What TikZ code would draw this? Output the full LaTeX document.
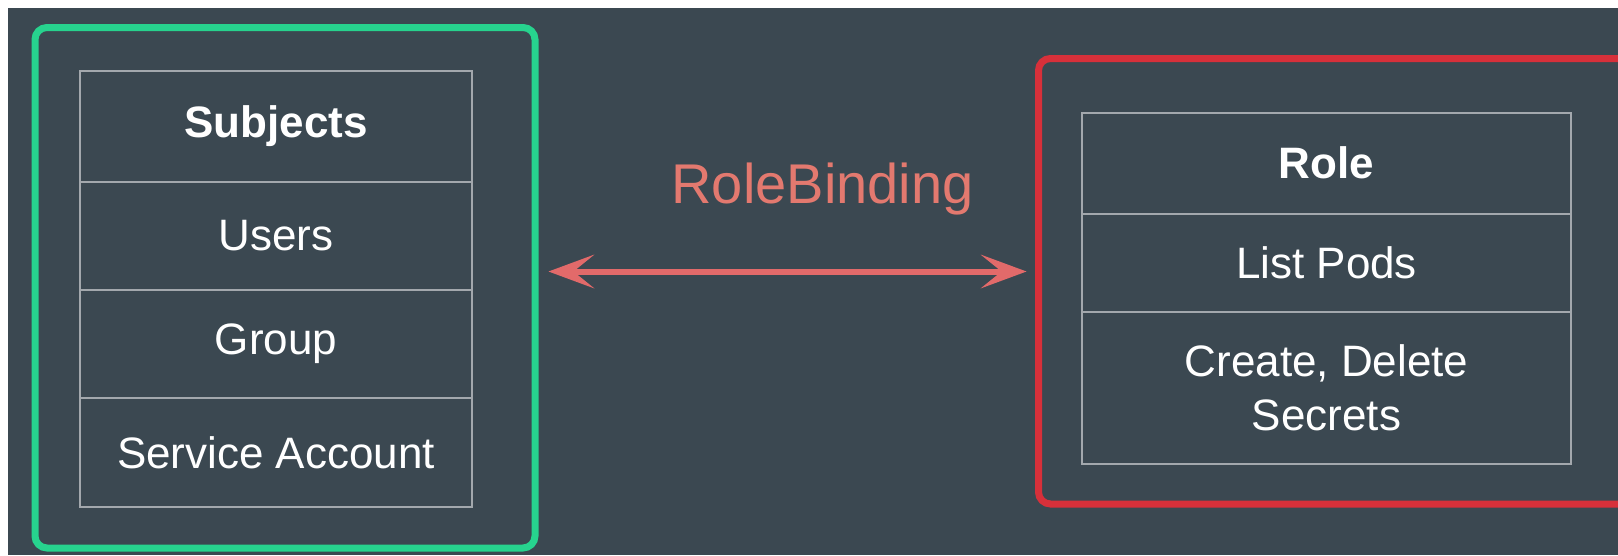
\documentclass[tikz,border=0pt]{standalone}
\usepackage{fontspec}
\setmainfont{Liberation Sans}
\usetikzlibrary{arrows.meta}

\definecolor{slatebg}{HTML}{3B4851}
\definecolor{subjgreen}{HTML}{27D38E}
\definecolor{rolered}{HTML}{D7303A}
\definecolor{gridgrey}{HTML}{A3A8AD}
\definecolor{bindred}{HTML}{E26A6A}
\definecolor{bindtext}{HTML}{E3796F}

\tikzset{
  frame/.style={draw, line width=7pt, rounded corners=12pt, inner sep=0pt},
  cell/.style={draw=gridgrey, line width=2pt, inner sep=0pt, text=white,
    align=center, font=\fontsize{44}{54}\selectfont},
  headcell/.style={cell, font=\fontsize{44}{54}\selectfont\bfseries},
  bindtip/.tip={Stealth[length=46pt,width=34pt,inset=21pt,line width=0pt]},
  bind/.style={draw=bindred, line width=6pt, bindtip-bindtip},
}

\begin{document}
\begin{tikzpicture}[x=1pt,y=-1pt]
  % page and backdrop
  \clip (0,0) rectangle (1618,555);
  \fill[white] (0,0) rectangle (1618,555);
  \fill[slatebg] (8,8) rectangle (1618,555);

  % subjects group
  \node[frame, draw=subjgreen, minimum width=500pt, minimum height=520.5pt]
    (subjframe) at (285,287.75) {};
  \node[headcell, minimum width=392pt, minimum height=111pt] (subj) at (276,126.5) {Subjects};
  \node[cell, minimum width=392pt, minimum height=108pt] (users) at (276,236) {Users};
  \node[cell, minimum width=392pt, minimum height=108pt] (group) at (276,344) {Group};
  \node[cell, minimum width=392pt, minimum height=109pt] (svc) at (276,452.5) {Service Account};

  % role group (runs past the right edge)
  \node[frame, draw=rolered, minimum width=621.5pt, minimum height=445.5pt]
    (roleframe) at (1349.25,281.25) {};
  \node[headcell, minimum width=489pt, minimum height=100.5pt] (role) at (1326.5,163.25) {Role};
  \node[cell, minimum width=489pt, minimum height=98pt] (pods) at (1326.5,262.5) {List Pods};
  \node[cell, minimum width=489pt, minimum height=152.5pt] (secrets) at (1326.5,387.75) {Create, Delete\\Secrets};

  % binding between them
  \coordinate (bindrow) at (0,271.5);
  \draw[bind, shorten <=10pt, shorten >=8.5pt]
    (subjframe.east |- bindrow) -- (roleframe.west |- bindrow);
  \node[text=bindtext, font=\fontsize{56}{67}\selectfont, anchor=base]
    (bindlabel) at (822.5,203) {RoleBinding};
\end{tikzpicture}
\end{document}
